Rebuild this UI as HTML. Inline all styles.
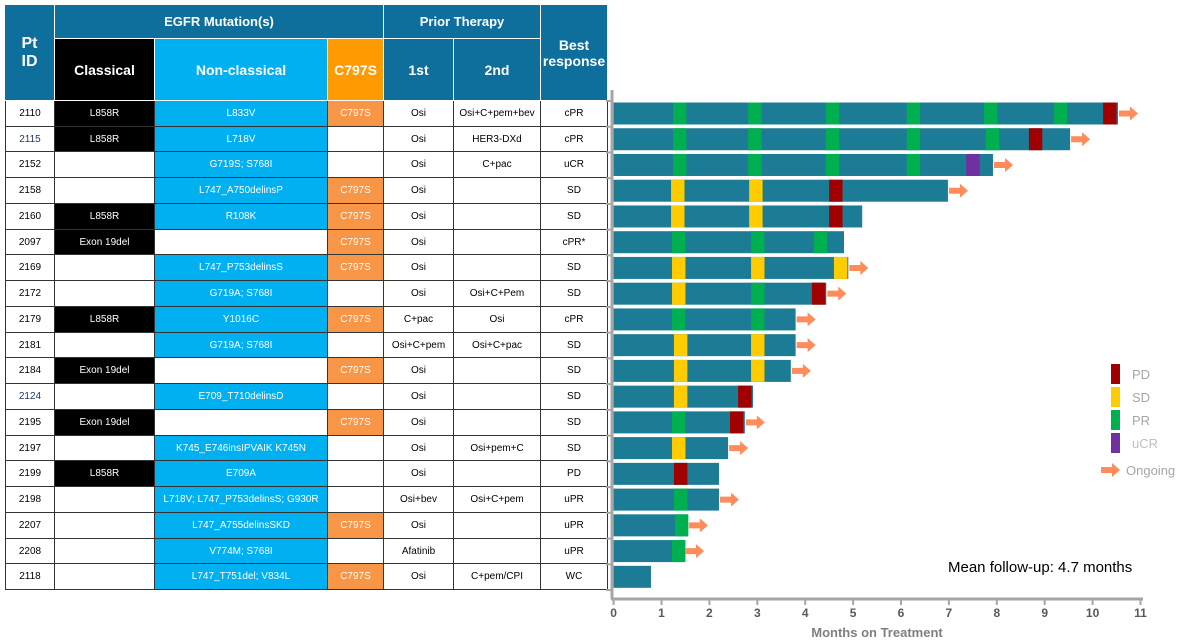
<!DOCTYPE html>
<html><head><meta charset="utf-8">
<style>
body{margin:0;width:1186px;height:642px;background:#fff;overflow:hidden;position:relative;font-family:"Liberation Sans Narrow","Liberation Sans",sans-serif;}
.c{position:absolute;box-sizing:border-box;display:flex;align-items:center;justify-content:center;text-align:center;font-size:10px;border-right:1px solid #333;border-bottom:1px solid #333;}
.h{color:#fff;font-weight:bold;border-color:#fff;border-width:0 1px 1px 0;}
svg{position:absolute;left:0;top:0;}
</style></head><body>
<div id="tbl"></div>
<svg id="chart" width="1186" height="642"></svg>
<script>
const ptIds=["2110","2115","2152","2158","2160","2097","2169","2172","2179","2181","2184","2124","2195","2197","2199","2198","2207","2208","2118"];
const classical=["L858R","L858R","","","L858R","Exon 19del","","","L858R","","Exon 19del","","Exon 19del","","L858R","","","",""];
const nonClassical=["L833V","L718V","G719S; S768I","L747_A750delinsP","R108K","","L747_P753delinsS","G719A; S768I","Y1016C","G719A; S768I","","E709_T710delinsD","","K745_E746insIPVAIK K745N","E709A","L718V; L747_P753delinsS; G930R","L747_A755delinsSKD","V774M; S768I","L747_T751del; V834L"];
const c797s=[1,0,0,1,1,1,1,0,1,0,1,0,1,0,0,0,1,0,1];
const therapy1=["Osi","Osi","Osi","Osi","Osi","Osi","Osi","Osi","C+pac","Osi+C+pem","Osi","Osi","Osi","Osi","Osi","Osi+bev","Osi","Afatinib","Osi"];
const therapy2=["Osi+C+pem+bev","HER3-DXd","C+pac","","","","","Osi+C+Pem","Osi","Osi+C+pac","","","","Osi+pem+C","","Osi+C+pem","","","C+pem/CPI"];
const bestResp=["cPR","cPR","uCR","SD","SD","cPR*","SD","SD","cPR","SD","SD","SD","SD","SD","PD","uPR","uPR","uPR","WC"];
// months on treatment
const durations=[10.53,9.53,7.92,6.98,5.19,4.81,4.9,4.44,3.8,3.8,3.7,2.91,2.74,2.39,2.2,2.2,1.55,1.47,0.78];
const ongoing=[1,1,1,1,0,0,1,1,1,1,1,0,1,1,0,1,1,1,0];
// assessment events: [month, type]
const events=[
 [[1.24,"PR"],[2.81,"PR"],[4.43,"PR"],[6.12,"PR"],[7.73,"PR"],[9.19,"PR"],[10.22,"PD"]],
 [[1.24,"PR"],[2.81,"PR"],[4.43,"PR"],[6.12,"PR"],[7.77,"PR"],[8.67,"PD"]],
 [[1.24,"PR"],[2.81,"PR"],[4.43,"PR"],[6.12,"PR"],[7.36,"uCR"]],
 [[1.2,"SD"],[2.83,"SD"],[4.5,"PD"]],
 [[1.2,"SD"],[2.83,"SD"],[4.5,"PD"]],
 [[1.22,"PR"],[2.87,"PR"],[4.18,"PR"]],
 [[1.22,"SD"],[2.87,"SD"],[4.6,"SD"]],
 [[1.22,"SD"],[2.87,"PR"],[4.14,"PD"]],
 [[1.22,"PR"],[2.87,"PR"]],
 [[1.26,"SD"],[2.87,"SD"]],
 [[1.26,"SD"],[2.87,"SD"]],
 [[1.26,"SD"],[2.6,"PD"]],
 [[1.22,"PR"],[2.43,"PD"]],
 [[1.22,"SD"]],
 [[1.26,"PD"]],
 [[1.26,"PR"]],
 [[1.28,"PR"]],
 [[1.22,"PR"]],
 []
];
const xTicks=[0,1,2,3,4,5,6,7,8,9,10,11];
const legendItems=["PD","SD","PR","uCR"];

const colors={PD:"#a00000",SD:"#ffcc00",PR:"#00b050",uCR:"#7030a0"};
const X0=613.6,PX=47.9;
const xs=m=>X0+m*PX;
const ROW0=101,RH=25.74;
const ys=i=>ROW0+i*RH;

// table
const tbl=document.getElementById('tbl');
function cell(x,y,w,h,txt,bg,color,cls,name,fs,bold){
  const d=document.createElement('div');
  d.className='c'+(cls?' '+cls:'');
  d.style.cssText=`left:${x}px;top:${y}px;width:${w}px;height:${h}px;background:${bg};color:${color};`+(fs?`font-size:${fs}px;`:'')+(bold?'font-weight:bold;':'');
  d.innerHTML=txt;
  
  
  tbl.appendChild(d);
  return d;
}
const HB="#0e6f9c";
const cols=[5,55,155,328,384,454,541,608];
cell(5,5,50,96,"Pt<br>ID",HB,"#fff","h","header-pt-id",16,true);
cell(55,5,329,34,"EGFR Mutation(s)",HB,"#fff","h","header-egfr-mutations",13,true);
cell(384,5,157,34,"Prior Therapy",HB,"#fff","h","header-prior-therapy",13,true);
cell(541,5,67,96,"Best<br>response",HB,"#fff","h","header-best-response",14,true);
cell(55,39,100,62,"Classical","#000","#fff","h","header-classical",14,true);
cell(155,39,173,62,"Non-classical","#00b0f0","#fff","h","header-non-classical",14,true);
cell(328,39,56,62,"C797S","#ff9a00","#fff","h","header-c797s",14,true);
cell(384,39,70,62,"1st",HB,"#fff","h","header-1st",14,true);
cell(454,39,87,62,"2nd",HB,"#fff","h","header-2nd",14,true);
for(let i=0;i<ptIds.length;i++){
  const y=Math.round(ys(i)),h=Math.round(ys(i+1))-y;
  const idc=(ptIds[i]==="2115"||ptIds[i]==="2124")?"#1f3864":"#000";
  const c0=cell(5,y,50,h,ptIds[i],"#fff",idc,"","cell-pt-id");c0.style.borderLeft="1px solid #333";
  cell(55,y,100,h,classical[i],classical[i]?"#000":"#fff","#fff","","cell-classical");
  cell(155,y,173,h,nonClassical[i],nonClassical[i]?"#00b0f0":"#fff","#fff","","cell-non-classical");
  cell(328,y,56,h,c797s[i]?"C797S":"",c797s[i]?"#f79646":"#fff","#fff","","cell-c797s");
  cell(384,y,70,h,therapy1[i],"#fff","#000","","cell-therapy-1st");
  cell(454,y,87,h,therapy2[i],"#fff","#000","","cell-therapy-2nd");
  cell(541,y,67,h,bestResp[i],"#fff","#000","","cell-best-response");
}

// chart
const svg=document.getElementById('chart');
const NS="http://www.w3.org/2000/svg";
function el(tag,attrs,parent){const e=document.createElementNS(NS,tag);for(const k in attrs)e.setAttribute(k,attrs[k]);(parent||svg).appendChild(e);return e;}
function arrow(x,yc,g){
  return el('polygon',{points:`${x},${yc-3} ${x+11},${yc-3} ${x+11},${yc-7} ${x+19},${yc} ${x+11},${yc+7} ${x+11},${yc+3} ${x},${yc+3}`,fill:"#ff8c5a"},g);
}
for(let i=0;i<durations.length;i++){
  const g=el('g',{});
  
  
  const y=ys(i)+1.5;
  const b=el('rect',{x:xs(0),y:y,width:xs(durations[i])-xs(0),height:22,fill:"#1c7c96"},g);
  
  
  for(const ev of events[i]){
    const r=el('rect',{x:xs(ev[0]),y:y,width:0.28*PX,height:22,fill:colors[ev[1]]},g);
    
    
  }
  if(ongoing[i]){
    const a=arrow(xs(durations[i])+1,y+11,g);
    
    
  }
}
// y axis
const ax=el('line',{x1:612,y1:90,x2:612,y2:599,stroke:"#a6a6a6","stroke-width":3});


for(let i=0;i<=ptIds.length;i++){
  const t=el('line',{x1:606,y1:ys(i),x2:612,y2:ys(i),stroke:"#a6a6a6","stroke-width":2});
  
  
}
const xa=el('line',{x1:611,y1:599,x2:1143,y2:599,stroke:"#a6a6a6","stroke-width":3});


for(const t of xTicks){
  const tk=el('line',{x1:xs(t),y1:599,x2:xs(t),y2:605,stroke:"#a6a6a6","stroke-width":2});
  
  
  const tx=el('text',{x:xs(t),y:617,"text-anchor":"middle","font-size":12,"font-weight":"bold",fill:"#595959","font-family":"Liberation Sans"});
  tx.textContent=t;
  
  
}
const xt=el('text',{x:877,y:637,"text-anchor":"middle","font-size":13,"font-weight":"bold",fill:"#7f7f7f","font-family":"Liberation Sans"});
xt.textContent="Months on Treatment";


const mf=el('text',{x:948,y:572,"font-size":15,fill:"#000","font-family":"Liberation Sans"});
mf.textContent="Mean follow-up: 4.7 months";


// legend
legendItems.forEach((k,j)=>{
  const y=364+j*23;
  const s=el('rect',{x:1111,y:y,width:9,height:20,fill:colors[k]});
  
  
  const t=el('text',{x:1132,y:y+15,"font-size":13,fill:k==="uCR"?"#bfbfbf":"#a6a6a6","font-family":"Liberation Sans"});
  t.textContent=k;
  
  
});
const la=arrow(1101,470);


const lt=el('text',{x:1126,y:475,"font-size":13,fill:"#a6a6a6","font-family":"Liberation Sans"});
lt.textContent="Ongoing";


</script>
</body></html>
